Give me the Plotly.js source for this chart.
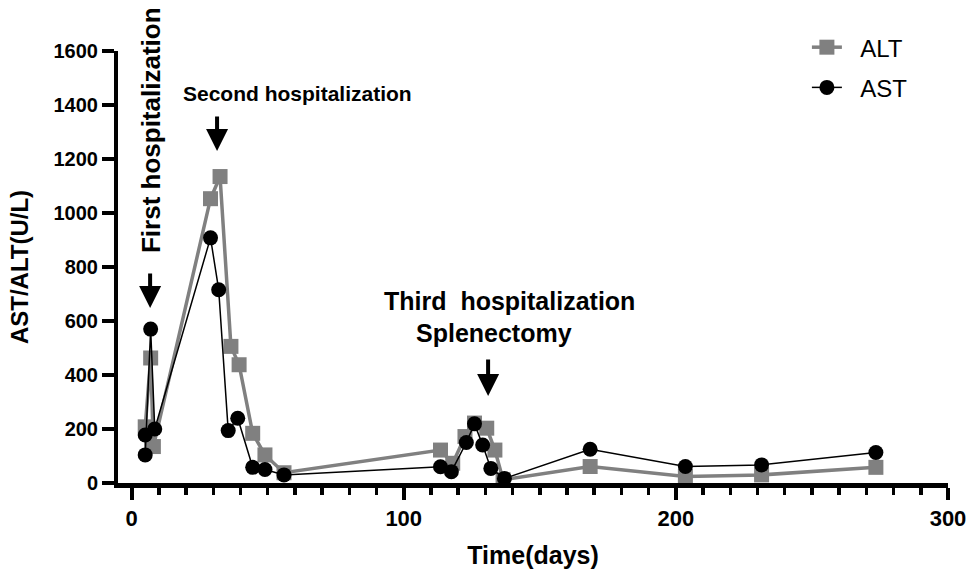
<!DOCTYPE html>
<html>
<head>
<meta charset="utf-8">
<script src="https://cdn.plot.ly/plotly-3.0.1.min.js"></script>
<style>html,body{margin:0;padding:0;background:#fff;}#chart{width:974px;height:572px;}</style>
</head>
<body>
<div id="chart"></div>
<script>
// ---- data ----
const altDays = [5, 7, 8, 29, 32.5, 36.5, 39.5, 44.5, 49, 56, 113.5, 118, 122.5, 126, 130.5, 133.5, 136.5, 168.5, 203.5, 231.5, 273.5];
const altValues = [208, 463, 135, 1053, 1135, 506, 438, 184, 104, 38, 122, 73, 172, 222, 203, 122, 12, 61, 24, 30, 58];
const astDays = [5, 5, 7, 8.5, 29, 32, 35.5, 39, 44.5, 49, 56, 113.5, 117.5, 123, 126, 129, 132, 137, 168.5, 203.5, 231.5, 273.5];
const astValues = [178, 104, 570, 200, 908, 716, 194, 240, 58, 50, 30, 60, 42, 150, 219, 141, 54, 17, 125, 61, 67, 113];
const seriesNames = ["ALT", "AST"];
const xTickValues = [0, 100, 200, 300];
const yTickValues = [0, 200, 400, 600, 800, 1000, 1200, 1400, 1600];
const xTitle = "Time(days)";
const yTitle = "AST/ALT(U/L)";

const FONT = "'Liberation Sans', Arial, Helvetica, sans-serif";
const NARROW = "'Liberation Sans Narrow', 'Arial Narrow', 'Liberation Sans', Arial, sans-serif";

const traces = [
  {
    x: altDays, y: altValues, name: "\u00a0\u00a0" + seriesNames[0], type: "scatter", mode: "lines+markers",
    legendgroup: "alt",
    line: {color: "#808080", width: 3.5},
    marker: {symbol: "square", size: 15, color: "#808080"},
    cliponaxis: false
  },
  {
    x: astDays, y: astValues, name: "\u00a0\u00a0" + seriesNames[1], type: "scatter", mode: "lines+markers",
    legendgroup: "ast",
    line: {color: "#000000", width: 1.5},
    marker: {symbol: "circle", size: 15, color: "#000000"},
    cliponaxis: false
  }
];

const arrowStyle = {showarrow: true, arrowhead: 2, arrowsize: 1.1, arrowwidth: 4, arrowcolor: "#000", ax: 0, text: ""};

const layout = {
  width: 974, height: 572,
  margin: {l: 118, r: 26, t: 51, b: 89},
  paper_bgcolor: "#fff", plot_bgcolor: "#fff",
  font: {family: FONT, color: "#000"},
  showlegend: true,
  legend: {
    x: 0.83, y: 1.06, xanchor: "left", yanchor: "top",
    font: {family: FONT, size: 24, color: "#000"},
    tracegroupgap: 6, bgcolor: "rgba(0,0,0,0)"
  },
  xaxis: {
    range: [-5, 300], tickvals: xTickValues, ticktext: xTickValues.map(String),
    showline: true, linecolor: "#000", linewidth: 4.5,
    ticks: "outside", ticklen: 12, tickwidth: 4, tickcolor: "#000",
    minor: {dtick: 10, tick0: 0, ticks: "outside", ticklen: 7, tickwidth: 3.5, tickcolor: "#000", showgrid: false},
    showgrid: false, zeroline: false,
    tickfont: {family: NARROW, size: 22, weight: "bold", color: "#000"},
    title: {text: "<b>" + xTitle + "</b>", font: {family: FONT, size: 25, color: "#000"}, standoff: 18}
  },
  yaxis: {
    range: [0, 1600], tickvals: yTickValues, ticktext: yTickValues.map(String),
    showline: true, linecolor: "#000", linewidth: 4,
    ticks: "outside", ticklen: 12, tickwidth: 4, tickcolor: "#000",
    showgrid: false, zeroline: false,
    tickfont: {family: FONT, size: 20, weight: "bold", color: "#000"},
    title: {text: "<b>" + yTitle + "</b>", font: {family: FONT, size: 24, color: "#000"}, standoff: 19}
  },
  annotations: [
    {x: 7.1, y: 1307, xref: "x", yref: "y", text: "<b>First hospitalization</b>", textangle: -90,
     showarrow: false, font: {family: FONT, size: 26, color: "#000"}, xanchor: "center", yanchor: "middle"},
    Object.assign({x: 6.8, y: 648, xref: "x", yref: "y", ay: -36}, arrowStyle),
    {x: 60.8, y: 1441, xref: "x", yref: "y", text: "<b>Second hospitalization</b>",
     showarrow: false, font: {family: FONT, size: 21, color: "#000"}, xanchor: "center", yanchor: "middle"},
    Object.assign({x: 31.4, y: 1230, xref: "x", yref: "y", ay: -36}, arrowStyle),
    {x: 138.7, y: 674, xref: "x", yref: "y", text: "<b>Third\u00a0\u00a0hospitalization</b>",
     showarrow: false, font: {family: FONT, size: 25, color: "#000"}, xanchor: "center", yanchor: "middle"},
    {x: 133.2, y: 556, xref: "x", yref: "y", text: "<b>Splenectomy</b>",
     showarrow: false, font: {family: FONT, size: 25, color: "#000"}, xanchor: "center", yanchor: "middle"},
    Object.assign({x: 131, y: 322, xref: "x", yref: "y", ay: -38}, arrowStyle)
  ]
};

Plotly.newPlot("chart", traces, layout, {staticPlot: true, displayModeBar: false});
</script>
</body>
</html>
